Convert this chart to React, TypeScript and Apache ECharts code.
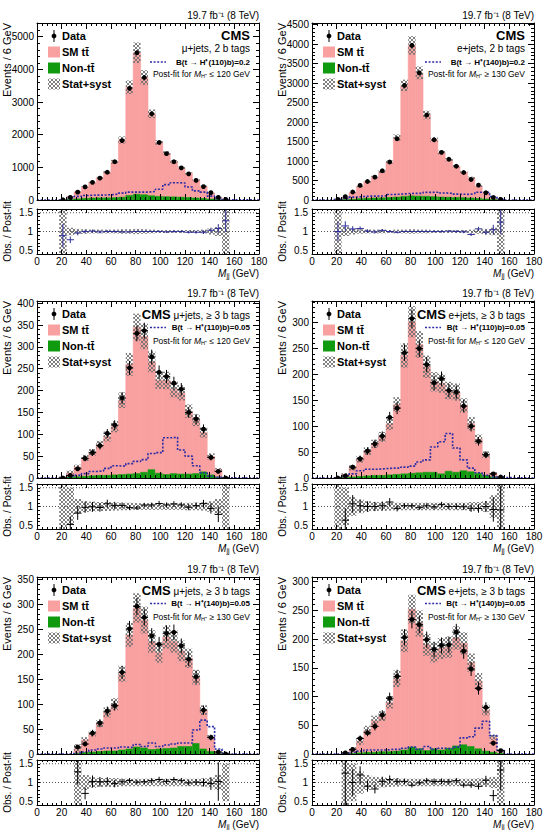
import React, { useEffect, useRef } from 'react';
import * as echarts from 'echarts';

const FONT = '"Liberation Sans", Arial, Helvetica, sans-serif';
const PINK = '#f9a0a0';
const GREEN = '#0f9a10';
const SIGNAL = '#2c2ca6';
const NAVY = '#30309a';
const BIN_WIDTH = 6;

// Bin centres of M_jj (GeV)
const bins21 = [21, 27, 33, 39, 45, 51, 57, 63, 69, 75, 81, 87, 93, 99, 105, 111, 117, 123, 129, 135, 141, 147, 153];
const bins27 = [27, 33, 39, 45, 51, 57, 63, 69, 75, 81, 87, 93, 99, 105, 111, 117, 123, 129, 135, 141, 147, 153];
const bins33 = [33, 39, 45, 51, 57, 63, 69, 75, 81, 87, 93, 99, 105, 111, 117, 123, 129, 135, 141, 147, 153];

// mu+jets, 2 b tags
const dataMu2b = [8, 78, 240, 400, 540, 670, 850, 1170, 1820, 3420, 4510, 3750, 2640, 1760, 1420, 1170, 985, 800, 600, 410, 225, 82, 18];
const ttMu2b = [7, 85, 215, 350, 475, 612, 785, 1100, 1753, 3315, 4335, 3590, 2510, 1650, 1334, 1075, 900, 741, 552, 373, 188, 64, 11];
const nonTtMu2b = [2, 15, 35, 50, 60, 65, 65, 70, 85, 140, 175, 160, 130, 110, 100, 95, 85, 75, 60, 45, 30, 12, 3];
const uncMu2b = [0.65, 0.1, 0.07, 0.06, 0.05, 0.05, 0.05, 0.05, 0.06, 0.06, 0.07, 0.06, 0.05, 0.04, 0.04, 0.04, 0.04, 0.04, 0.04, 0.05, 0.08, 0.12, 0.65];
const sigMu2b = [5, 60, 110, 140, 150, 150, 160, 180, 210, 240, 240, 240, 260, 330, 470, 530, 520, 400, 280, 240, 120, 50, 10];

// e+jets, 2 b tags
const dataE2b = [15, 85, 205, 375, 475, 585, 750, 975, 1570, 2940, 3965, 3260, 2180, 1545, 1220, 1045, 865, 705, 525, 380, 185, 65, 15];
const ttE2b = [13, 66, 172, 312, 425, 541, 673, 910, 1527, 2845, 3860, 3160, 2085, 1460, 1145, 965, 800, 652, 521, 315, 164, 52, 10];
const nonTtE2b = [2, 8, 20, 35, 45, 50, 55, 65, 75, 95, 105, 100, 95, 85, 75, 70, 65, 60, 50, 40, 25, 10, 2];
const uncE2b = [0.6, 0.12, 0.08, 0.06, 0.05, 0.05, 0.05, 0.04, 0.05, 0.05, 0.06, 0.05, 0.05, 0.04, 0.04, 0.04, 0.04, 0.04, 0.05, 0.06, 0.07, 0.1, 0.6];
const sigE2b = [20, 40, 75, 90, 100, 100, 105, 140, 150, 165, 170, 170, 195, 200, 180, 170, 150, 145, 160, 200, 200, 90, 20];

// mu+jets, >= 3 b tags, low-mass fit
const dataMu3bLow = [0, 6, 21, 45, 58, 74, 102, 121, 183, 252, 331, 337, 277, 242, 232, 217, 203, 150, 135, 112, 47, 15, 0];
const ttMu3bLow = [1.5, 9.5, 22.5, 42, 53.5, 70, 89, 110.5, 170, 251, 335, 311, 247, 213, 215, 193, 186, 144, 122, 90, 42.5, 17, 0.7];
const nonTtMu3bLow = [0.5, 2, 3, 4, 5, 6, 6, 7, 8, 9, 10, 13, 19, 11, 8, 10, 9, 9, 10, 14, 7, 2, 0.3];
const uncMu3bLow = [0.8, 0.5, 0.2, 0.15, 0.13, 0.12, 0.12, 0.11, 0.1, 0.1, 0.09, 0.09, 0.09, 0.09, 0.09, 0.09, 0.09, 0.1, 0.1, 0.11, 0.14, 0.2, 0.8];
const sigMu3bLow = [1.5, 4, 6, 10, 15, 16, 22, 28, 27, 33, 38, 42, 56, 58, 92, 93, 64, 50, 28, 12, 4, 1.5, 0.5];

// e+jets, >= 3 b tags, low-mass fit
const dataE3bLow = [0, 4, 21, 37, 52, 66, 81, 117, 135, 242, 308, 250, 219, 184, 192, 169, 166, 139, 100, 71, 45, 8, 2];
const ttE3bLow = [0.7, 5.3, 17.6, 33.3, 48, 61, 74.4, 98.5, 135, 229, 293, 248, 204, 175, 175, 156, 155, 126, 93, 66, 40, 6.7, 1.7];
const nonTtE3bLow = [0.3, 1, 2, 3, 4, 5, 5, 6, 7, 8, 9, 10, 11, 11, 8, 13, 11, 14, 12, 9, 5, 2, 0.5];
const uncE3bLow = [0.8, 0.5, 0.25, 0.18, 0.14, 0.12, 0.12, 0.11, 0.1, 0.1, 0.1, 0.1, 0.1, 0.1, 0.1, 0.1, 0.1, 0.1, 0.12, 0.12, 0.14, 0.3, 0.8];
const sigE3bLow = [1, 4, 8, 14, 17, 17, 18, 19, 19, 21, 23, 31, 35, 60, 70, 86, 58, 35, 19, 10, 5, 2, 1];

// mu+jets, >= 3 b tags, high-mass fit
const dataMu3bHigh = [14, 20, 42, 62, 86, 97, 164, 251, 296, 274, 237, 220, 242, 244, 217, 190, 155, 88, 33, 4, 0];
const ttMu3bHigh = [9.9, 25.2, 36.8, 55.8, 77.5, 94, 152.8, 229, 279, 256.6, 216.7, 193.7, 224, 214, 191.7, 177, 132.5, 78, 29, 2.9, 0.7];
const nonTtMu3bHigh = [1, 3, 4, 5, 6, 6, 8, 10, 14, 12, 9, 10, 11, 12, 15, 15, 21, 10, 5, 1, 0.3];
const uncMu3bHigh = [0.8, 0.2, 0.14, 0.12, 0.12, 0.12, 0.1, 0.1, 0.1, 0.1, 0.1, 0.1, 0.1, 0.1, 0.1, 0.1, 0.1, 0.11, 0.13, 0.2, 0.5];
const sigMu3bHigh = [2, 4, 8, 10, 12, 12, 14, 13, 19, 15, 22, 15, 18, 20, 22, 22, 48, 68, 55, 10, 2];

// e+jets, >= 3 b tags, high-mass fit
const dataE3bHigh = [2, 8, 27, 37, 48, 68, 97, 135, 203, 234, 225, 199, 182, 189, 190, 212, 179, 148, 114, 81, 19, 6];
const ttE3bHigh = [1.3, 7, 20.5, 38, 55, 62, 86, 126, 190, 240, 218, 184, 168, 176.5, 176, 188, 176.5, 146, 118, 71.4, 26.2, 3.5];
const nonTtE3bHigh = [0.3, 1, 2, 3, 3, 4, 4, 5, 7, 12, 9, 6, 9, 7, 10, 14, 16, 13, 9, 5, 3, 1];
const uncE3bHigh = [0.8, 0.5, 0.3, 0.2, 0.15, 0.13, 0.12, 0.11, 0.1, 0.1, 0.1, 0.1, 0.1, 0.1, 0.1, 0.1, 0.1, 0.1, 0.11, 0.12, 0.15, 0.6];
const sigE3bHigh = [1, 3, 5, 7, 7, 7, 8, 8, 10, 12, 8, 13, 8, 10, 9, 12, 28, 30, 45, 57, 32, 6];

interface Panel {
  channel: string; mass: number; br: string; postfit: string;
  bins: number[]; data: number[]; tt: number[]; nonTt: number[]; unc: number[]; sig: number[];
  yMax: number; yStep: number;
}

const panels: Panel[] = [
  { channel: 'μ+jets, 2 b tags', mass: 110, br: '0.2', postfit: '≤ 120', bins: bins21, data: dataMu2b, tt: ttMu2b, nonTt: nonTtMu2b, unc: uncMu2b, sig: sigMu2b, yMax: 5420, yStep: 1000 },
  { channel: 'e+jets, 2 b tags', mass: 140, br: '0.2', postfit: '≥ 130', bins: bins21, data: dataE2b, tt: ttE2b, nonTt: nonTtE2b, unc: uncE2b, sig: sigE2b, yMax: 4540, yStep: 500 },
  { channel: 'μ+jets, ≥ 3 b tags', mass: 110, br: '0.05', postfit: '≤ 120', bins: bins21, data: dataMu3bLow, tt: ttMu3bLow, nonTt: nonTtMu3bLow, unc: uncMu3bLow, sig: sigMu3bLow, yMax: 405, yStep: 50 },
  { channel: 'e+jets, ≥ 3 b tags', mass: 110, br: '0.05', postfit: '≤ 120', bins: bins21, data: dataE3bLow, tt: ttE3bLow, nonTt: nonTtE3bLow, unc: uncE3bLow, sig: sigE3bLow, yMax: 342, yStep: 50 },
  { channel: 'μ+jets, ≥ 3 b tags', mass: 140, br: '0.05', postfit: '≥ 130', bins: bins33, data: dataMu3bHigh, tt: ttMu3bHigh, nonTt: nonTtMu3bHigh, unc: uncMu3bHigh, sig: sigMu3bHigh, yMax: 355, yStep: 50 },
  { channel: 'e+jets, ≥ 3 b tags', mass: 140, br: '0.05', postfit: '≥ 130', bins: bins27, data: dataE3bHigh, tt: ttE3bHigh, nonTt: nonTtE3bHigh, unc: uncE3bHigh, sig: sigE3bHigh, yMax: 308, yStep: 50 },
];

// page layout (px)
const FRAME_LEFT = [37, 312];
const FRAME_W = 222;
const MAIN_TOP = [23, 301, 577];
const MAIN_H = 177;
const RATIO_TOP = [209, 484, 760];
const RATIO_H = 45;

function makeHatch() {
  const size = 4;
  const cv = document.createElement('canvas');
  cv.width = size;
  cv.height = size;
  const g = cv.getContext('2d');
  if (g) {
    g.strokeStyle = '#707070';
    g.lineWidth = 0.9;
    g.beginPath();
    g.moveTo(0, 0); g.lineTo(size, size);
    g.moveTo(size, 0); g.lineTo(0, size);
    g.stroke();
  }
  return { image: cv.toDataURL(), repeat: 'repeat', imageWidth: size, imageHeight: size };
}

const black = { color: '#000', width: 1 };

function xAxisDef(gridIndex: number, position: string, labels: boolean, tickLen: number) {
  return {
    type: 'value', gridIndex, position, min: 0, max: 180, interval: 20, z: 10,
    axisLine: { show: true, onZero: false, lineStyle: black },
    axisTick: { show: true, inside: true, length: tickLen, lineStyle: black },
    minorTick: { show: true, splitNumber: 5, length: tickLen / 2, lineStyle: black },
    axisLabel: { show: labels, margin: 2, fontSize: 10, fontFamily: FONT, color: '#000', formatter: (v: number) => String(v) },
    splitLine: { show: false },
  };
}

function yMainDef(gridIndex: number, position: string, p: Panel, labels: boolean) {
  return {
    type: 'value', gridIndex, position, min: 0, max: p.yMax, interval: p.yStep, z: 10,
    axisLine: { show: true, onZero: false, lineStyle: black },
    axisTick: { show: true, inside: true, length: 6, lineStyle: black },
    minorTick: { show: true, splitNumber: 5, length: 3, lineStyle: black },
    axisLabel: { show: labels, showMaxLabel: false, margin: 3, fontSize: 10, fontFamily: FONT, color: '#000', formatter: (v: number) => String(v) },
    splitLine: { show: false },
  };
}

function yRatioDef(gridIndex: number, position: string, labels: boolean) {
  return {
    type: 'value', gridIndex, position, min: 0.4, max: 1.6, interval: 0.1, z: 10,
    axisLine: { show: true, onZero: false, lineStyle: black },
    axisTick: { show: true, inside: true, length: 3, lineStyle: black },
    axisLabel: {
      show: labels, margin: 4, fontSize: 10, fontFamily: FONT, color: '#000',
      formatter: (v: number) => {
        const r = Math.round(v * 10) / 10;
        return r === 0.5 ? '0.5' : r === 1 ? '1' : r === 1.5 ? '1.5' : '';
      },
    },
    splitLine: { show: false },
  };
}

function txt(x: number, y: number, text: string, style: any = {}, extra: any = {}) {
  return {
    type: 'text', x, y, silent: true, ...extra,
    style: { text, fill: '#000', fontFamily: FONT, fontSize: 10, align: 'left', verticalAlign: 'middle', ...style },
  };
}

function buildOption(hatch: any) {
  const grid: any[] = [];
  const xAxis: any[] = [];
  const yAxis: any[] = [];
  const series: any[] = [];
  const graphic: any[] = [];

  panels.forEach((p, i) => {
    const col = i % 2;
    const row = Math.floor(i / 2);
    const left = FRAME_LEFT[col];
    const right = left + FRAME_W;
    const mainTop = MAIN_TOP[row];
    const ratioTop = RATIO_TOP[row];
    const hbar = row > 0;
    const ratioColor = row === 0 ? NAVY : '#000';

    const gMain = grid.length;
    grid.push({ left, top: mainTop, width: FRAME_W, height: MAIN_H, containLabel: false, outerBoundsMode: 'none' });
    const gRatio = grid.length;
    grid.push({ left, top: ratioTop, width: FRAME_W, height: RATIO_H, containLabel: false, outerBoundsMode: 'none' });

    const xMain = xAxis.length;
    xAxis.push(xAxisDef(gMain, 'bottom', false, 6), xAxisDef(gMain, 'top', false, 6));
    const xRatio = xAxis.length;
    xAxis.push(xAxisDef(gRatio, 'bottom', true, 4), xAxisDef(gRatio, 'top', false, 4));
    const yMain = yAxis.length;
    yAxis.push(yMainDef(gMain, 'left', p, true), yMainDef(gMain, 'right', p, false));
    const yRatio = yAxis.length;
    yAxis.push(yRatioDef(gRatio, 'left', true), yRatioDef(gRatio, 'right', false));

    // stacked prediction with uncertainty band
    series.push({
      type: 'custom', xAxisIndex: xMain, yAxisIndex: yMain, clip: true, silent: true, z: 1,
      data: p.bins.map((c, k) => [c, p.tt[k], p.nonTt[k], p.unc[k]]),
      encode: { x: 0, y: 1 },
      renderItem: (_params: any, api: any) => {
        const c = api.value(0), tt = api.value(1), nt = api.value(2), u = api.value(3);
        const tot = tt + nt;
        const lo = c - BIN_WIDTH / 2, hi = c + BIN_WIDTH / 2;
        const rect = (y0: number, y1: number) => {
          const a = api.coord([lo, y1]);
          const b = api.coord([hi, y0]);
          return { x: a[0], y: a[1], width: b[0] - a[0], height: b[1] - a[1] };
        };
        return {
          type: 'group',
          children: [
            { type: 'rect', shape: rect(0, tot), style: { fill: PINK, stroke: PINK, lineWidth: 0.6 } },
            { type: 'rect', shape: rect(0, nt), style: { fill: GREEN, stroke: GREEN, lineWidth: 0.6 } },
            { type: 'rect', shape: rect(tot * (1 - u), tot * (1 + u)), style: { fill: hatch } },
          ],
        };
      },
    });

    // signal expectation, drawn as a step histogram
    const half = BIN_WIDTH / 2;
    const steps: number[][] = [[0, 0], [p.bins[0] - half, 0]];
    p.bins.forEach((c, k) => { steps.push([c - half, p.sig[k]], [c + half, p.sig[k]]); });
    steps.push([p.bins[p.bins.length - 1] + half, 0], [180, 0]);
    series.push({
      type: 'line', xAxisIndex: xMain, yAxisIndex: yMain, data: steps, symbol: 'none', showSymbol: false,
      silent: true, z: 3, animation: false, lineStyle: { color: SIGNAL, width: 1.6, type: [2, 1.6] },
    });

    // observed data
    series.push({
      type: 'custom', xAxisIndex: xMain, yAxisIndex: yMain, clip: true, silent: true, z: 4,
      data: p.bins.map((c, k) => [c, p.data[k]]),
      encode: { x: 0, y: 1 },
      renderItem: (_params: any, api: any) => {
        const c = api.value(0), n = api.value(1);
        const err = Math.sqrt(n);
        const pt = api.coord([c, n]);
        const yTop = api.coord([c, n + err])[1];
        const yBot = api.coord([c, Math.max(n - err, 0)])[1];
        const xl = api.coord([c - half, n])[0];
        const xr = api.coord([c + half, n])[0];
        const children: any[] = [];
        if (err > 0) children.push({ type: 'line', shape: { x1: pt[0], y1: yTop, x2: pt[0], y2: yBot }, style: { stroke: '#000', lineWidth: 1 } });
        if (hbar) children.push({ type: 'line', shape: { x1: xl, y1: pt[1], x2: xr, y2: pt[1] }, style: { stroke: '#000', lineWidth: 1 } });
        children.push({ type: 'circle', shape: { cx: pt[0], cy: pt[1], r: 2.4 }, style: { fill: '#000' } });
        return { type: 'group', children };
      },
    });

    // ratio reference lines
    [1, 1.5].forEach((level) => {
      series.push({
        type: 'line', xAxisIndex: xRatio, yAxisIndex: yRatio, data: [[0, level], [180, level]], symbol: 'none',
        silent: true, z: 1, lineStyle: { color: '#555', width: 1, type: [1, 2] },
      });
    });

    // relative uncertainty band
    series.push({
      type: 'custom', xAxisIndex: xRatio, yAxisIndex: yRatio, clip: true, silent: true, z: 2,
      data: p.bins.map((c, k) => [c, p.unc[k]]),
      encode: { x: 0, y: 1 },
      renderItem: (_params: any, api: any) => {
        const c = api.value(0), u = api.value(1);
        const a = api.coord([c - half, 1 + u]);
        const b = api.coord([c + half, 1 - u]);
        return { type: 'rect', shape: { x: a[0], y: a[1], width: b[0] - a[0], height: b[1] - a[1] }, style: { fill: hatch } };
      },
    });

    // observed / post-fit
    const ratioPts: number[][] = [];
    p.bins.forEach((c, k) => {
      const pred = p.tt[k] + p.nonTt[k];
      if (p.data[k] > 0) ratioPts.push([c, p.data[k] / pred, Math.sqrt(p.data[k]) / pred]);
    });
    series.push({
      type: 'custom', xAxisIndex: xRatio, yAxisIndex: yRatio, clip: true, silent: true, z: 4,
      data: ratioPts,
      encode: { x: 0, y: 1 },
      renderItem: (_params: any, api: any) => {
        const c = api.value(0), r = api.value(1), e = api.value(2);
        const pt = api.coord([c, r]);
        const yTop = api.coord([c, r + e])[1];
        const yBot = api.coord([c, r - e])[1];
        const xl = api.coord([c - half, r])[0];
        const xr = api.coord([c + half, r])[0];
        return {
          type: 'group',
          children: [
            { type: 'line', shape: { x1: pt[0], y1: yTop, x2: pt[0], y2: yBot }, style: { stroke: ratioColor, lineWidth: 1 } },
            { type: 'line', shape: { x1: xl, y1: pt[1], x2: xr, y2: pt[1] }, style: { stroke: ratioColor, lineWidth: 1 } },
          ],
        };
      },
    });

    // ---- texts and legend ----
    graphic.push(txt(right, mainTop - 8, '19.7 fb⁻¹ (8 TeV)', { align: 'right', fontSize: 10 }));
    graphic.push(txt(left - 30, mainTop, 'Events / 6 GeV', { align: 'right', fontSize: 11 }, { rotation: Math.PI / 2 }));
    graphic.push(txt(left - 30, ratioTop + RATIO_H / 2, 'Obs. / Post-fit', { align: 'center', fontSize: 10 }, { rotation: Math.PI / 2 }));
    graphic.push(txt(right, ratioTop + RATIO_H + 19, '{i|M}{s|jj}{n| (GeV)}', {
      align: 'right',
      rich: {
        i: { fontFamily: FONT, fontSize: 10, fontStyle: 'italic', lineHeight: 11, verticalAlign: 'middle' },
        s: { fontFamily: FONT, fontSize: 7, lineHeight: 7, verticalAlign: 'bottom' },
        n: { fontFamily: FONT, fontSize: 10, lineHeight: 11, verticalAlign: 'middle' },
      },
    }));

    // legend on the left
    const lx = left + 11;
    graphic.push({ type: 'line', silent: true, shape: { x1: left + 17, y1: mainTop + 7, x2: left + 17, y2: mainTop + 19 }, style: { stroke: '#000', lineWidth: 1 } });
    graphic.push({ type: 'circle', silent: true, shape: { cx: left + 17, cy: mainTop + 13, r: 2.4 }, style: { fill: '#000' } });
    graphic.push(txt(left + 25, mainTop + 13, 'Data', { fontWeight: 'bold', fontSize: 11 }));
    graphic.push({ type: 'rect', silent: true, shape: { x: lx, y: mainTop + 23.5, width: 12, height: 11 }, style: { fill: PINK } });
    graphic.push(txt(left + 25, mainTop + 29, 'SM tt\u0304', { fontWeight: 'bold', fontSize: 11 }));
    graphic.push({ type: 'rect', silent: true, shape: { x: lx, y: mainTop + 39.5, width: 12, height: 11 }, style: { fill: GREEN } });
    graphic.push(txt(left + 25, mainTop + 45, 'Non-tt\u0304', { fontWeight: 'bold', fontSize: 11 }));
    graphic.push({ type: 'rect', silent: true, shape: { x: lx, y: mainTop + 55.5, width: 12, height: 11 }, style: { fill: hatch } });
    graphic.push(txt(left + 25, mainTop + 61, 'Stat+syst', { fontWeight: 'bold', fontSize: 11 }));

    // labels on the right
    const tx = right - 9;
    let sigY: number;
    let postY: number;
    if (row === 0) {
      graphic.push(txt(tx, mainTop + 12, 'CMS', { align: 'right', fontWeight: 'bold', fontSize: 13 }));
      graphic.push(txt(tx, mainTop + 25, p.channel, { align: 'right', fontSize: 10 }));
      sigY = mainTop + 39;
      postY = mainTop + 51;
    } else {
      graphic.push(txt(tx, mainTop + 12, `{c|CMS}{t| ${p.channel}}`, {
        align: 'right',
        rich: {
          c: { fontFamily: FONT, fontSize: 13, fontWeight: 'bold', lineHeight: 15, verticalAlign: 'bottom' },
          t: { fontFamily: FONT, fontSize: 10, lineHeight: 13, verticalAlign: 'bottom' },
        },
      }));
      sigY = mainTop + 26.5;
      postY = mainTop + 40;
    }
    graphic.push({ type: 'line', silent: true, shape: { x1: right - 109, y1: sigY, x2: right - 93, y2: sigY }, style: { stroke: SIGNAL, lineWidth: 1.6, lineDash: [2, 1.6] } });
    graphic.push(txt(tx, sigY, `B(t → H⁺(${p.mass})b)=${p.br}`, { align: 'right', fontWeight: 'bold', fontSize: 8 }));
    graphic.push(txt(tx, postY, `{n|Post-fit for }{i|M}{s|H⁺}{n| ${p.postfit} GeV}`, {
      align: 'right',
      rich: {
        n: { fontFamily: FONT, fontSize: 8.5, lineHeight: 10, verticalAlign: 'middle' },
        i: { fontFamily: FONT, fontSize: 8.5, fontStyle: 'italic', lineHeight: 10, verticalAlign: 'middle' },
        s: { fontFamily: FONT, fontSize: 5.5, lineHeight: 6, verticalAlign: 'bottom' },
      },
    }));
  });

  return {
    animation: false,
    backgroundColor: '#fff',
    grid, xAxis, yAxis, series,
    graphic: { elements: graphic },
  };
}

export default function App() {
  const ref = useRef<HTMLDivElement>(null);
  useEffect(() => {
    document.body.style.margin = '0';
    if (!ref.current) return;
    const chart = echarts.init(ref.current, undefined, { renderer: 'svg', width: 544, height: 830 });
    chart.setOption(buildOption(makeHatch()) as any);
    return () => chart.dispose();
  }, []);
  return <div ref={ref} style={{ width: 544, height: 830 }} />;
}
